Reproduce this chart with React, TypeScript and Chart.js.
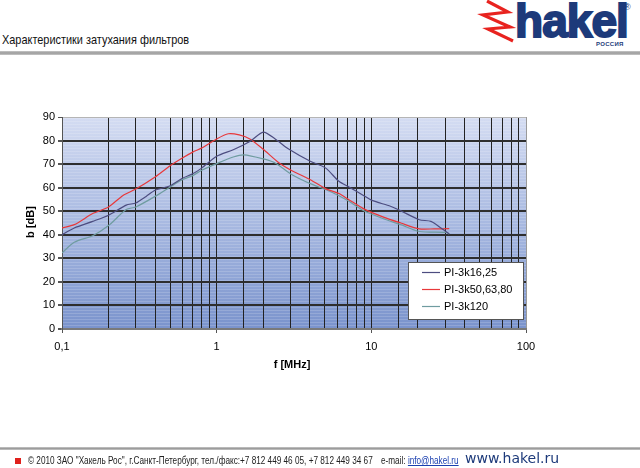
import React, { useEffect, useRef } from 'react';
import { Chart, registerables } from 'chart.js';

Chart.register(...registerables);

// ---- data ----
const seriesLabels = ['PI-3k16,25', 'PI-3k50,63,80', 'PI-3k120'];
const seriesColors = ['#4d4d80', '#e8383a', '#6f9ca0'];

const freqA = [0.1, 0.12, 0.158, 0.2, 0.26, 0.3, 0.35, 0.4, 0.5, 0.6, 0.7, 0.8, 1.0, 1.28, 1.65, 2.0, 2.39, 2.92, 4.03, 5.05, 6.17, 7.16, 8.95, 10.1, 13.3, 15.5, 20.4, 24.3, 28.2, 31.9];
const dbA = [40.0, 42.9, 45.7, 48.3, 52.6, 53.5, 56.3, 58.9, 60.8, 64.0, 65.9, 68.3, 73.3, 76.1, 79.7, 83.6, 80.7, 76.4, 71.2, 68.4, 62.7, 60.3, 56.6, 54.6, 52.1, 50.2, 46.4, 45.7, 42.9, 40.3];

const freqB = [0.1, 0.12, 0.158, 0.2, 0.248, 0.3, 0.4, 0.5, 0.6, 0.7, 0.8, 1.0, 1.19, 1.4, 1.65, 2.0, 2.51, 3.07, 4.03, 5.05, 6.17, 7.16, 8.95, 12.1, 15.5, 20.4, 25.5, 31.9];
const dbB = [42.9, 44.3, 49.0, 51.8, 56.7, 59.4, 64.5, 69.3, 72.6, 75.1, 76.8, 80.7, 82.9, 82.4, 80.6, 76.3, 70.7, 67.2, 63.4, 59.6, 57.5, 54.9, 51.0, 47.4, 45.0, 42.5, 42.5, 42.6];

const freqC = [0.1, 0.12, 0.158, 0.2, 0.26, 0.3, 0.4, 0.5, 0.6, 0.7, 0.8, 1.0, 1.28, 1.5, 2.0, 2.39, 3.07, 4.03, 5.05, 6.17, 7.16, 8.95, 12.1, 15.5, 20.4, 30.4, 31.9];
const dbC = [32.3, 36.8, 39.6, 43.9, 50.7, 51.8, 56.3, 60.3, 63.4, 65.1, 67.4, 70.2, 73.0, 73.9, 72.2, 70.5, 65.5, 61.7, 59.2, 56.6, 54.2, 50.2, 46.7, 44.3, 41.4, 41.0, 40.3];

const xMin = 0.1;
const xMax = 100;
const yMin = 0;
const yMax = 90;
const yStep = 10;
const decadeLabels: Record<string, string> = { '-1': '0,1', '0': '1', '1': '10', '2': '100' };

const titleText = 'Характеристики затухания фильтров';
const yTitle = 'b [dB]';
const xTitle = 'f [MHz]';

const isDecade = (v: number) => Math.abs(Math.log10(v) - Math.round(Math.log10(v))) < 1e-6;

const bgPlugin = {
  id: 'plotBg',
  beforeDraw(chart: any) {
    const { ctx, chartArea } = chart;
    const { left, top, right, bottom } = chartArea;
    ctx.save();
    const g = ctx.createLinearGradient(0, top, 0, bottom);
    g.addColorStop(0, '#d4dcf2');
    g.addColorStop(0.5, '#a8b9e1');
    g.addColorStop(1, '#7a93cc');
    ctx.fillStyle = g;
    ctx.fillRect(left, top, right - left, bottom - top);
    ctx.fillStyle = 'rgba(255,255,255,0.16)';
    for (let y = top + 1; y < bottom; y += 3) ctx.fillRect(left, y, right - left, 1);
    ctx.restore();
  },
};

const legendPlugin = {
  id: 'boxLegend',
  afterDraw(chart: any) {
    const { ctx, chartArea } = chart;
    const w = 116;
    const h = 58;
    const x0 = chartArea.right - 118;
    const y0 = chartArea.bottom - 9 - h;
    ctx.save();
    ctx.fillStyle = '#ffffff';
    ctx.fillRect(x0, y0, w, h);
    ctx.strokeStyle = '#555555';
    ctx.lineWidth = 1;
    ctx.strokeRect(x0 + 0.5, y0 + 0.5, w - 1, h - 1);
    ctx.font = '11px "Liberation Sans", Arial, sans-serif';
    ctx.textBaseline = 'middle';
    ctx.fillStyle = '#000';
    chart.data.datasets.forEach((ds: any, i: number) => {
      const y = y0 + 10 + i * 17;
      ctx.strokeStyle = ds.borderColor;
      ctx.lineWidth = 1.2;
      ctx.beginPath();
      ctx.moveTo(x0 + 14, y + 0.5);
      ctx.lineTo(x0 + 32, y + 0.5);
      ctx.stroke();
      ctx.fillText(ds.label, x0 + 36, y + 1);
    });
    ctx.restore();
  },
};

function HakelChart() {
  const ref = useRef<HTMLCanvasElement | null>(null);
  useEffect(() => {
    if (!ref.current) return;
    const mk = (fs: number[], ds: number[]) => fs.map((f, i) => ({ x: f, y: ds[i] }));
    const sets = [mk(freqA, dbA), mk(freqB, dbB), mk(freqC, dbC)];
    const chart = new Chart(ref.current, {
      type: 'line',
      data: {
        datasets: sets.map((d, i) => ({
          label: seriesLabels[i],
          data: d,
          borderColor: seriesColors[i],
          backgroundColor: seriesColors[i],
          borderWidth: 1.2,
          pointRadius: 0,
          tension: 0.25,
          fill: false,
        })),
      },
      options: {
        animation: false,
        responsive: false,
        devicePixelRatio: 1,
        layout: { padding: { top: 57, right: 114, left: 0, bottom: 0 } },
        plugins: { legend: { display: false }, tooltip: { enabled: false }, title: { display: false } },
        scales: {
          x: {
            type: 'logarithmic',
            min: xMin,
            max: xMax,
            afterFit: (s: any) => { s.height = 51; },
            border: { display: true, color: '#7a7a7a', width: 2 },
            grid: {
              color: (c: any) => {
                const v = c.tick ? c.tick.value : 0;
                if (Math.abs(v - xMax) < 1e-6) return '#9a9a9a';
                return '#222222';
              },
              lineWidth: 1,
              tickLength: 4,
              tickColor: (c: any) => (c.tick && isDecade(c.tick.value) ? '#555' : 'rgba(0,0,0,0)'),
            },
            ticks: {
              autoSkip: false,
              maxRotation: 0,
              minRotation: 0,
              padding: 7,
              color: '#000',
              font: { family: '"Liberation Sans", Arial, sans-serif', size: 11 },
              callback: (v: any) => {
                const n = Number(v);
                if (!isDecade(n)) return '';
                return decadeLabels[String(Math.round(Math.log10(n)))] ?? '';
              },
            },
          },
          y: {
            type: 'linear',
            min: yMin,
            max: yMax,
            afterFit: (s: any) => { s.width = 62; },
            border: { display: true, color: '#555555', width: 1 },
            grid: {
              color: (c: any) => (c.tick && c.tick.value === yMax ? '#b5b5b5' : '#2e2e2e'),
              lineWidth: (c: any) => (c.tick && c.tick.value === yMax ? 1 : 2),
              tickLength: 4,
              tickColor: '#555',
            },
            ticks: {
              stepSize: yStep,
              padding: 3,
              color: '#000',
              font: { family: '"Liberation Sans", Arial, sans-serif', size: 11 },
            },
          },
        },
      },
      plugins: [bgPlugin, legendPlugin],
    } as any);
    return () => chart.destroy();
  }, []);
  return <canvas ref={ref} width={640} height={320} style={{ position: 'absolute', left: 0, top: 60, width: 640, height: 320 }} />;
}

export default function App() {
  const sans = '"Liberation Sans", Arial, sans-serif';
  const narrow = (sx: number): React.CSSProperties => ({ transform: `scaleX(${sx})`, transformOrigin: 'left center' });
  return (
    <div style={{ position: 'absolute', left: 0, top: 0, width: 640, height: 468, background: '#fff', overflow: 'hidden', fontFamily: sans }}>
      {/* header */}
      <div style={{ position: 'absolute', left: 2, top: 32, fontSize: 13, color: '#111', whiteSpace: 'nowrap', ...narrow(0.84) }}>{titleText}</div>
      <svg width={640} height={60} style={{ position: 'absolute', left: 0, top: 0 }}>
        <polyline points="487,1 508,12 483,15 510,27 488,29 513,41" fill="none" stroke="#e8231f" strokeWidth={3.2} strokeLinejoin="miter" />
      </svg>
      <div style={{ position: 'absolute', left: 515, top: -7, fontSize: 47, fontWeight: 900, color: '#1d3a7a', letterSpacing: -1, transform: 'scaleX(0.98)', transformOrigin: 'left top', WebkitTextStroke: '2px #1d3a7a', whiteSpace: 'nowrap' }}>hakel</div>
      <div style={{ position: 'absolute', left: 624, top: 2, fontSize: 9, color: '#1d3a7a' }}>®</div>
      <div style={{ position: 'absolute', left: 596, top: 41, fontSize: 6, fontWeight: 700, color: '#1d3a7a', letterSpacing: 0.3 }}>РОССИЯ</div>
      <div style={{ position: 'absolute', left: 0, top: 51, width: 640, height: 4, background: 'linear-gradient(#c8c8c8, #9a9a9a 50%, #c8c8c8)' }} />

      {/* chart */}
      <HakelChart />
      <div style={{ position: 'absolute', left: 30, top: 222, transform: 'translate(-50%,-50%) rotate(-90deg)', fontSize: 11, fontWeight: 700, color: '#000', whiteSpace: 'nowrap' }}>{yTitle}</div>
      <div style={{ position: 'absolute', left: 292, top: 364, transform: 'translate(-50%,-50%)', fontSize: 11, fontWeight: 700, color: '#000', whiteSpace: 'nowrap' }}>{xTitle}</div>

      {/* footer */}
      <div style={{ position: 'absolute', left: 0, top: 447, width: 640, height: 3, background: 'linear-gradient(#c8c8c8, #9c9c9c 50%, #c8c8c8)' }} />
      <div style={{ position: 'absolute', left: 15, top: 458, width: 6, height: 6, background: '#e0201c' }} />
      <div style={{ position: 'absolute', left: 28, top: 455, fontSize: 10, color: '#222', whiteSpace: 'nowrap', ...narrow(0.82) }}>
        © 2010 ЗАО "Хакель Рос", г.Санкт-Петербург, тел./факс:+7 812 449 46 05, +7 812 449 34 67
      </div>
      <div style={{ position: 'absolute', left: 381, top: 455, fontSize: 10, color: '#222', whiteSpace: 'nowrap', ...narrow(0.82) }}>
        e-mail: <span style={{ color: '#1a3fb0', textDecoration: 'underline' }}>info@hakel.ru</span>
      </div>
      <div style={{ position: 'absolute', left: 465, top: 450, fontFamily: '"DejaVu Sans", Verdana, sans-serif', fontSize: 14, color: '#1d3a7a', whiteSpace: 'nowrap' }}>www.hakel.ru</div>
    </div>
  );
}
